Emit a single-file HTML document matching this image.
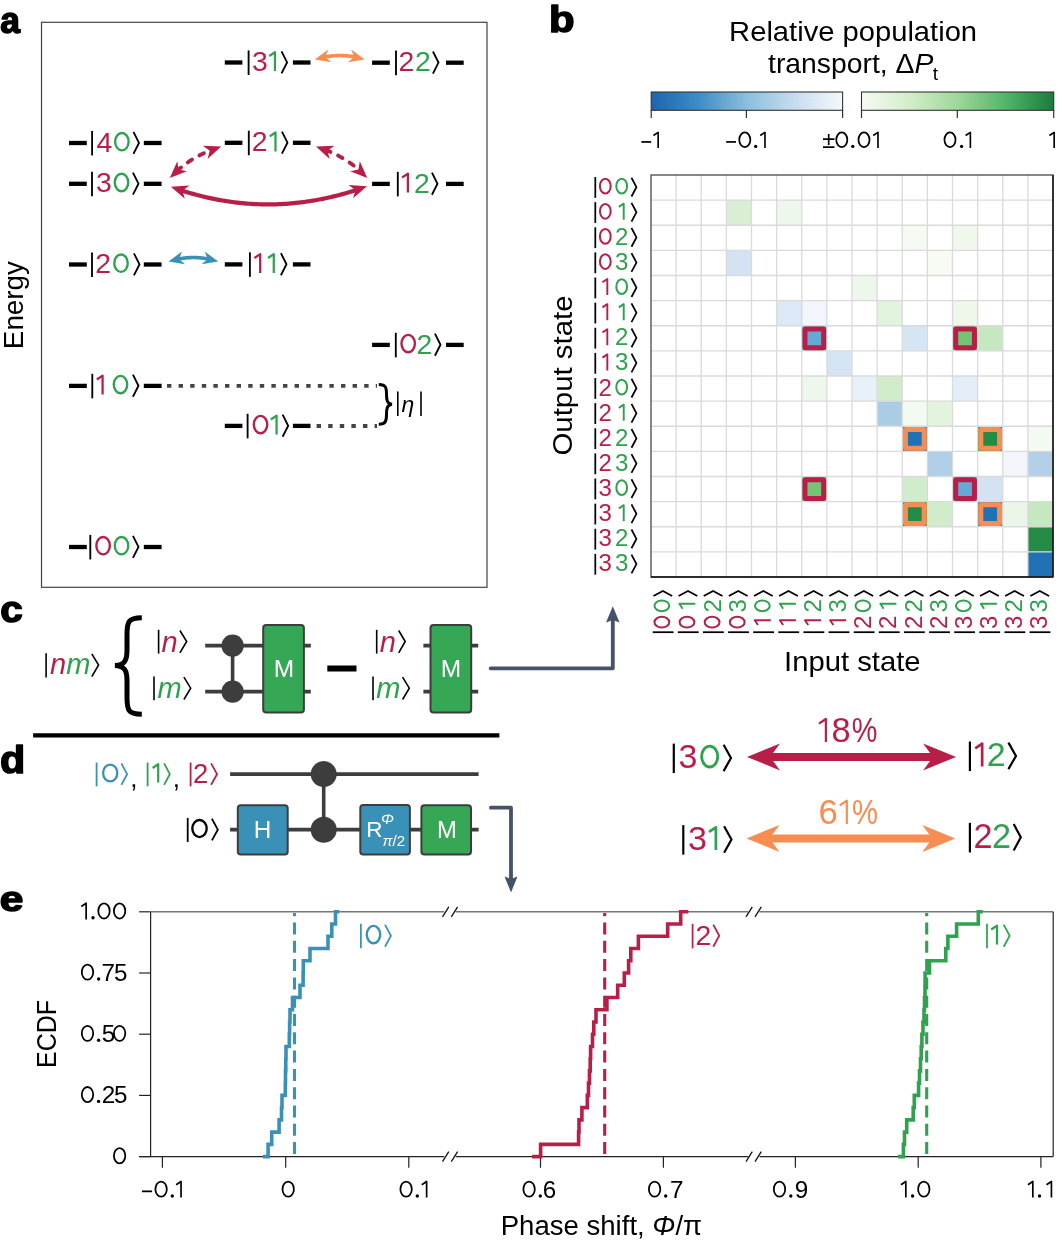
<!DOCTYPE html>
<html><head><meta charset="utf-8"><style>
html,body{margin:0;padding:0;background:#fff;}
svg{display:block;will-change:transform;}
text{font-family:"Liberation Sans", sans-serif;}
</style></head><body>
<svg width="1058" height="1243" viewBox="0 0 1058 1243" font-family='"Liberation Sans", sans-serif'>
<rect width="1058" height="1243" fill="#fff"/>
<rect x="41.5" y="22.3" width="445.5" height="565" fill="none" stroke="#444" stroke-width="1.2"/>
<text x="0.31" y="32.50" font-size="36.14" font-weight="bold" stroke="#000" stroke-width="1.5" stroke-linejoin="round" textLength="19.71" lengthAdjust="spacingAndGlyphs">a</text>
<text transform="translate(23.20,346.90) rotate(-90)" x="-2.28" y="0" font-size="27.5" fill="#000" textLength="88.14" lengthAdjust="spacingAndGlyphs">Energy</text>
<line x1="224.8" y1="62.5" x2="242.4" y2="62.5" stroke="#000" stroke-width="4.3"/>
<line x1="292.9" y1="62.5" x2="310.5" y2="62.5" stroke="#000" stroke-width="4.3"/>
<line x1="248.60" y1="50.41" x2="248.60" y2="74.96" stroke="#000" stroke-width="1.85"/>
<text x="260.00" y="71.10" font-size="28.37" fill="#b91e48" text-anchor="middle">3</text>
<path d="M269.23,56.05 L274.98,52.19 V71.10" fill="none" stroke="#2ea24e" stroke-width="2.26" stroke-linejoin="round"/>
<polyline points="281.53,51.30 287.09,62.39 281.53,73.38" fill="none" stroke="#000" stroke-width="1.85"/>
<line x1="372.1" y1="62.7" x2="389.8" y2="62.7" stroke="#000" stroke-width="4.3"/>
<line x1="446.0" y1="62.7" x2="463.7" y2="62.7" stroke="#000" stroke-width="4.3"/>
<line x1="396.00" y1="50.61" x2="396.00" y2="75.16" stroke="#000" stroke-width="1.85"/>
<text x="406.50" y="71.30" font-size="28.37" fill="#b91e48" text-anchor="middle">2</text>
<text x="423.00" y="71.30" font-size="28.37" fill="#2ea24e" text-anchor="middle">2</text>
<polyline points="432.93,51.50 438.49,62.59 432.93,73.58" fill="none" stroke="#000" stroke-width="1.85"/>
<line x1="69.0" y1="143.0" x2="86.8" y2="143.0" stroke="#000" stroke-width="4.3"/>
<line x1="143.8" y1="143.0" x2="161.6" y2="143.0" stroke="#000" stroke-width="4.3"/>
<line x1="92.10" y1="130.91" x2="92.10" y2="155.46" stroke="#000" stroke-width="1.85"/>
<text x="104.30" y="151.60" font-size="28.37" fill="#b91e48" text-anchor="middle">4</text>
<ellipse cx="121.90" cy="141.70" rx="6.73" ry="8.71" fill="none" stroke="#2ea24e" stroke-width="2.38"/>
<polyline points="133.43,131.80 138.99,142.89 133.43,153.88" fill="none" stroke="#000" stroke-width="1.85"/>
<line x1="224.8" y1="142.8" x2="242.4" y2="142.8" stroke="#000" stroke-width="4.3"/>
<line x1="292.9" y1="142.8" x2="310.5" y2="142.8" stroke="#000" stroke-width="4.3"/>
<line x1="248.80" y1="130.71" x2="248.80" y2="155.26" stroke="#000" stroke-width="1.85"/>
<text x="259.60" y="151.40" font-size="28.37" fill="#b91e48" text-anchor="middle">2</text>
<path d="M269.73,136.35 L275.48,132.49 V151.40" fill="none" stroke="#2ea24e" stroke-width="2.26" stroke-linejoin="round"/>
<polyline points="281.93,131.60 287.49,142.69 281.93,153.68" fill="none" stroke="#000" stroke-width="1.85"/>
<line x1="69.0" y1="183.8" x2="86.8" y2="183.8" stroke="#000" stroke-width="4.3"/>
<line x1="143.8" y1="183.8" x2="161.6" y2="183.8" stroke="#000" stroke-width="4.3"/>
<line x1="92.00" y1="171.71" x2="92.00" y2="196.26" stroke="#000" stroke-width="1.85"/>
<text x="104.00" y="192.40" font-size="28.37" fill="#b91e48" text-anchor="middle">3</text>
<ellipse cx="121.50" cy="182.50" rx="6.73" ry="8.71" fill="none" stroke="#2ea24e" stroke-width="2.38"/>
<polyline points="132.93,172.60 138.49,183.69 132.93,194.68" fill="none" stroke="#000" stroke-width="1.85"/>
<line x1="372.1" y1="183.9" x2="389.8" y2="183.9" stroke="#000" stroke-width="4.3"/>
<line x1="446.0" y1="183.9" x2="463.7" y2="183.9" stroke="#000" stroke-width="4.3"/>
<line x1="397.80" y1="171.81" x2="397.80" y2="196.36" stroke="#000" stroke-width="1.85"/>
<path d="M402.13,177.45 L407.88,173.59 V192.50" fill="none" stroke="#b91e48" stroke-width="2.26" stroke-linejoin="round"/>
<text x="422.00" y="192.50" font-size="28.37" fill="#2ea24e" text-anchor="middle">2</text>
<polyline points="431.93,172.70 437.49,183.79 431.93,194.78" fill="none" stroke="#000" stroke-width="1.85"/>
<line x1="69.0" y1="264.5" x2="86.8" y2="264.5" stroke="#000" stroke-width="4.3"/>
<line x1="143.8" y1="264.5" x2="161.6" y2="264.5" stroke="#000" stroke-width="4.3"/>
<line x1="92.00" y1="252.41" x2="92.00" y2="276.96" stroke="#000" stroke-width="1.85"/>
<text x="103.20" y="273.10" font-size="28.37" fill="#b91e48" text-anchor="middle">2</text>
<ellipse cx="121.00" cy="263.20" rx="6.73" ry="8.71" fill="none" stroke="#2ea24e" stroke-width="2.38"/>
<polyline points="133.93,253.30 139.49,264.39 133.93,275.38" fill="none" stroke="#000" stroke-width="1.85"/>
<line x1="224.8" y1="264.4" x2="242.4" y2="264.4" stroke="#000" stroke-width="4.3"/>
<line x1="292.9" y1="264.4" x2="310.5" y2="264.4" stroke="#000" stroke-width="4.3"/>
<line x1="249.90" y1="252.31" x2="249.90" y2="276.86" stroke="#000" stroke-width="1.85"/>
<path d="M254.43,257.95 L260.18,254.09 V273.00" fill="none" stroke="#b91e48" stroke-width="2.26" stroke-linejoin="round"/>
<path d="M268.03,257.95 L273.78,254.09 V273.00" fill="none" stroke="#2ea24e" stroke-width="2.26" stroke-linejoin="round"/>
<polyline points="280.93,253.20 286.49,264.29 280.93,275.28" fill="none" stroke="#000" stroke-width="1.85"/>
<line x1="372.1" y1="344.9" x2="389.8" y2="344.9" stroke="#000" stroke-width="4.3"/>
<line x1="446.0" y1="344.9" x2="463.7" y2="344.9" stroke="#000" stroke-width="4.3"/>
<line x1="395.80" y1="332.81" x2="395.80" y2="357.36" stroke="#000" stroke-width="1.85"/>
<ellipse cx="408.20" cy="343.60" rx="6.73" ry="8.71" fill="none" stroke="#b91e48" stroke-width="2.38"/>
<text x="424.50" y="353.50" font-size="28.37" fill="#2ea24e" text-anchor="middle">2</text>
<polyline points="434.93,333.70 440.49,344.79 434.93,355.78" fill="none" stroke="#000" stroke-width="1.85"/>
<line x1="69.0" y1="385.9" x2="86.8" y2="385.9" stroke="#000" stroke-width="4.3"/>
<line x1="143.8" y1="385.9" x2="161.6" y2="385.9" stroke="#000" stroke-width="4.3"/>
<line x1="92.30" y1="373.81" x2="92.30" y2="398.36" stroke="#000" stroke-width="1.85"/>
<path d="M96.83,379.45 L102.58,375.59 V394.50" fill="none" stroke="#b91e48" stroke-width="2.26" stroke-linejoin="round"/>
<ellipse cx="120.50" cy="384.60" rx="6.73" ry="8.71" fill="none" stroke="#2ea24e" stroke-width="2.38"/>
<polyline points="132.93,374.70 138.49,385.79 132.93,396.78" fill="none" stroke="#000" stroke-width="1.85"/>
<line x1="224.8" y1="425.9" x2="242.4" y2="425.9" stroke="#000" stroke-width="4.3"/>
<line x1="292.9" y1="425.9" x2="310.5" y2="425.9" stroke="#000" stroke-width="4.3"/>
<line x1="247.60" y1="413.81" x2="247.60" y2="438.36" stroke="#000" stroke-width="1.85"/>
<ellipse cx="260.50" cy="424.60" rx="6.73" ry="8.71" fill="none" stroke="#b91e48" stroke-width="2.38"/>
<path d="M270.83,419.45 L276.58,415.59 V434.50" fill="none" stroke="#2ea24e" stroke-width="2.26" stroke-linejoin="round"/>
<polyline points="282.62,414.70 288.19,425.79 282.62,436.78" fill="none" stroke="#000" stroke-width="1.85"/>
<line x1="69.0" y1="547.0" x2="86.8" y2="547.0" stroke="#000" stroke-width="4.3"/>
<line x1="143.8" y1="547.0" x2="161.6" y2="547.0" stroke="#000" stroke-width="4.3"/>
<line x1="90.30" y1="534.91" x2="90.30" y2="559.46" stroke="#000" stroke-width="1.85"/>
<ellipse cx="103.10" cy="545.70" rx="6.73" ry="8.71" fill="none" stroke="#b91e48" stroke-width="2.38"/>
<ellipse cx="121.50" cy="545.70" rx="6.73" ry="8.71" fill="none" stroke="#2ea24e" stroke-width="2.38"/>
<polyline points="132.93,535.80 138.49,546.89 132.93,557.88" fill="none" stroke="#000" stroke-width="1.85"/>
<line x1="167" y1="385.9" x2="377" y2="385.9" stroke="#444" stroke-width="3.9" stroke-dasharray="4.4 7.2"/>
<line x1="316.6" y1="426" x2="377" y2="426" stroke="#444" stroke-width="3.9" stroke-dasharray="4.4 7.2"/>
<path d="M378.8,384.5 C386,384.5 386.5,388 386.5,394 C386.5,400 387,403.8 392,404.3 C387,404.8 386.5,408.6 386.5,414.6 C386.5,420.6 386,424.2 378.8,424.2" fill="none" stroke="#000" stroke-width="3"/>
<line x1="397.8" y1="391.5" x2="397.8" y2="416" stroke="#000" stroke-width="1.6"/>
<text x="401.50" y="411.50" font-size="23" fill="#000" font-style="italic" >η</text>
<line x1="421" y1="391.5" x2="421" y2="416" stroke="#000" stroke-width="1.6"/>
<path d="M180.71,190.17 L183.16,190.96 L185.61,191.72 L188.07,192.46 L190.52,193.18 L192.97,193.88 L195.42,194.56 L197.88,195.21 L200.33,195.84 L202.78,196.45 L205.23,197.03 L207.68,197.60 L210.14,198.14 L212.59,198.65 L215.04,199.15 L217.49,199.62 L219.94,200.07 L222.40,200.50 L224.85,200.91 L227.30,201.29 L229.75,201.66 L232.20,202.00 L234.65,202.31 L237.11,202.61 L239.56,202.88 L242.01,203.13 L244.46,203.36 L246.91,203.56 L249.36,203.74 L251.82,203.90 L254.27,204.04 L256.72,204.16 L259.17,204.25 L261.62,204.32 L264.07,204.37 L266.52,204.40 L268.98,204.40 L271.43,204.38 L273.88,204.34 L276.33,204.28 L278.78,204.19 L281.23,204.08 L283.68,203.95 L286.13,203.80 L288.58,203.62 L291.03,203.43 L293.49,203.21 L295.94,202.96 L298.39,202.70 L300.84,202.41 L303.29,202.10 L305.74,201.77 L308.19,201.42 L310.64,201.04 L313.09,200.64 L315.54,200.22 L317.99,199.78 L320.44,199.31 L322.89,198.82 L325.35,198.31 L327.80,197.78 L330.25,197.22 L332.70,196.64 L335.15,196.04 L337.60,195.42 L340.05,194.77 L342.50,194.11 L344.95,193.42 L347.40,192.70 L349.85,191.97 L352.30,191.21 L354.75,190.43 L357.20,189.63" fill="none" stroke="#b91e48" stroke-width="4.2"/>
<path d="M170.90,186.80 L184.80,198.83 L182.51,190.68 L189.24,185.55 Z" fill="#b91e48"/>
<path d="M367.00,186.20 L348.65,185.06 L355.41,190.15 L353.17,198.31 Z" fill="#b91e48"/>
<path d="M177.21,170.69 L177.76,170.19 L178.32,169.70 L178.88,169.22 L179.45,168.74 L180.02,168.26 L180.59,167.79 L181.16,167.32 L181.74,166.85 L182.32,166.39 L182.91,165.93 L183.50,165.48 L184.09,165.03 L184.69,164.59 L185.29,164.14 L185.89,163.71 L186.50,163.27 L187.11,162.84 L187.72,162.42 L188.34,161.99 L188.96,161.58 L189.58,161.16 L190.21,160.75 L190.84,160.35 L191.47,159.94 L192.11,159.54 L192.75,159.15 L193.39,158.76 L194.04,158.37 L194.69,157.99 L195.35,157.61 L196.01,157.24 L196.67,156.87 L197.33,156.50 L198.00,156.14 L198.67,155.78 L199.35,155.42 L200.03,155.07 L200.71,154.72 L201.39,154.38 L202.08,154.04 L202.77,153.71 L203.47,153.37 L204.17,153.05 L204.87,152.72 L205.58,152.40 L206.29,152.09 L207.00,151.78 L207.72,151.47 L208.44,151.16 L209.16,150.86 L209.89,150.57 L210.62,150.28 L211.35,149.99" fill="none" stroke="#b91e48" stroke-width="3.9" stroke-dasharray="5 8.5" stroke-linecap="round"/>
<path d="M169.80,178.00 L186.93,171.34 L178.66,169.55 L177.27,161.20 Z" fill="#b91e48"/>
<path d="M221.20,146.60 L202.83,145.79 L209.69,150.76 L207.59,158.96 Z" fill="#b91e48"/>
<path d="M325.79,149.99 L326.52,150.28 L327.25,150.57 L327.97,150.86 L328.69,151.16 L329.41,151.47 L330.12,151.78 L330.83,152.09 L331.54,152.40 L332.24,152.72 L332.94,153.05 L333.64,153.37 L334.33,153.71 L335.02,154.04 L335.71,154.38 L336.39,154.72 L337.07,155.07 L337.75,155.42 L338.42,155.78 L339.09,156.14 L339.75,156.50 L340.42,156.87 L341.08,157.24 L341.73,157.61 L342.39,157.99 L343.04,158.37 L343.68,158.76 L344.32,159.15 L344.96,159.54 L345.60,159.94 L346.23,160.35 L346.86,160.75 L347.49,161.16 L348.11,161.58 L348.73,161.99 L349.35,162.42 L349.96,162.84 L350.57,163.27 L351.18,163.71 L351.78,164.14 L352.38,164.59 L352.97,165.03 L353.57,165.48 L354.16,165.93 L354.74,166.39 L355.33,166.85 L355.91,167.32 L356.48,167.79 L357.05,168.26 L357.62,168.74 L358.19,169.22 L358.75,169.70 L359.31,170.19 L359.87,170.69" fill="none" stroke="#b91e48" stroke-width="3.9" stroke-dasharray="5 8.5" stroke-linecap="round"/>
<path d="M316.00,146.60 L329.59,158.98 L327.51,150.78 L334.37,145.82 Z" fill="#b91e48"/>
<path d="M367.30,178.00 L359.80,161.21 L358.43,169.57 L350.16,171.36 Z" fill="#b91e48"/>
<path d="M323.55,57.26 L324.17,57.13 L324.80,57.01 L325.42,56.89 L326.04,56.78 L326.67,56.67 L327.29,56.56 L327.92,56.46 L328.54,56.37 L329.17,56.28 L329.79,56.20 L330.42,56.12 L331.04,56.05 L331.66,55.98 L332.29,55.91 L332.91,55.86 L333.54,55.80 L334.16,55.76 L334.78,55.71 L335.41,55.67 L336.03,55.64 L336.66,55.61 L337.28,55.59 L337.90,55.57 L338.53,55.56 L339.15,55.55 L339.78,55.55 L340.40,55.55 L341.02,55.56 L341.65,55.57 L342.27,55.59 L342.89,55.61 L343.52,55.64 L344.14,55.67 L344.76,55.71 L345.39,55.76 L346.01,55.80 L346.63,55.86 L347.26,55.91 L347.88,55.98 L348.50,56.05 L349.13,56.12 L349.75,56.20 L350.37,56.28 L351.00,56.37 L351.62,56.46 L352.24,56.56 L352.87,56.67 L353.49,56.78 L354.11,56.89 L354.74,57.01 L355.36,57.13 L355.98,57.26" fill="none" stroke="#f78d50" stroke-width="3.6"/>
<path d="M314.80,59.60 L331.42,62.35 L325.34,57.04 L328.30,49.53 Z" fill="#f78d50"/>
<path d="M364.70,59.60 L351.20,49.52 L354.16,57.03 L348.08,62.34 Z" fill="#f78d50"/>
<path d="M177.21,259.26 L177.83,259.13 L178.46,259.01 L179.08,258.89 L179.70,258.78 L180.32,258.67 L180.94,258.56 L181.57,258.46 L182.19,258.37 L182.81,258.28 L183.43,258.20 L184.05,258.12 L184.67,258.05 L185.30,257.98 L185.92,257.91 L186.54,257.86 L187.16,257.80 L187.78,257.76 L188.40,257.71 L189.03,257.67 L189.65,257.64 L190.27,257.61 L190.89,257.59 L191.51,257.57 L192.13,257.56 L192.75,257.55 L193.38,257.55 L194.00,257.55 L194.62,257.56 L195.24,257.57 L195.86,257.59 L196.48,257.61 L197.10,257.64 L197.72,257.67 L198.34,257.71 L198.96,257.76 L199.59,257.80 L200.21,257.86 L200.83,257.91 L201.45,257.98 L202.07,258.05 L202.69,258.12 L203.31,258.20 L203.93,258.28 L204.55,258.37 L205.17,258.46 L205.79,258.56 L206.41,258.67 L207.03,258.78 L207.66,258.89 L208.28,259.01 L208.90,259.13 L209.52,259.26" fill="none" stroke="#3a91b8" stroke-width="3.6"/>
<path d="M168.50,261.60 L185.12,264.34 L179.04,259.03 L181.99,251.51 Z" fill="#3a91b8"/>
<path d="M218.20,261.60 L204.71,251.50 L207.66,259.02 L201.58,264.32 Z" fill="#3a91b8"/>
<text x="549.09" y="31.79" font-size="36.97" font-weight="bold" stroke="#000" stroke-width="1.5" stroke-linejoin="round" textLength="25.58" lengthAdjust="spacingAndGlyphs">b</text>
<text x="729.11" y="40.60" font-size="27.5" fill="#000" textLength="247.98" lengthAdjust="spacingAndGlyphs">Relative population</text>
<text x="768.07" y="72.50" font-size="27.5" fill="#000" textLength="165.22" lengthAdjust="spacingAndGlyphs">transport, Δ<tspan font-style="italic">P</tspan></text>
<text x="932.80" y="79.50" font-size="19" fill="#000" >t</text>
<defs><linearGradient id="gb" x1="0" x2="1" y1="0" y2="0"><stop offset="0" stop-color="#1d64ad"/><stop offset="0.25" stop-color="#3f8dc5"/><stop offset="0.5" stop-color="#8bbfde"/><stop offset="0.75" stop-color="#c8dcef"/><stop offset="1" stop-color="#f4f8fd"/></linearGradient><linearGradient id="gg" x1="0" x2="1" y1="0" y2="0"><stop offset="0" stop-color="#f5fbf2"/><stop offset="0.25" stop-color="#d2eecb"/><stop offset="0.5" stop-color="#9fd79a"/><stop offset="0.75" stop-color="#52b56a"/><stop offset="1" stop-color="#1b7b3d"/></linearGradient></defs>
<rect x="651.2" y="92" width="191.4" height="18.3" fill="url(#gb)" stroke="#333" stroke-width="1.1"/>
<rect x="861.5" y="92" width="192.2" height="18.3" fill="url(#gg)" stroke="#333" stroke-width="1.1"/>
<line x1="651.2" y1="110" x2="651.2" y2="118" stroke="#333" stroke-width="1.2"/>
<line x1="746.4" y1="110" x2="746.4" y2="118" stroke="#333" stroke-width="1.2"/>
<line x1="842.6" y1="110" x2="842.6" y2="118" stroke="#333" stroke-width="1.2"/>
<line x1="861.5" y1="110" x2="861.5" y2="118" stroke="#333" stroke-width="1.2"/>
<line x1="957.3" y1="110" x2="957.3" y2="118" stroke="#333" stroke-width="1.2"/>
<line x1="1053.7" y1="110" x2="1053.7" y2="118" stroke="#333" stroke-width="1.2"/>
<line x1="641.38" y1="141.93" x2="651.22" y2="141.93" stroke="#000" stroke-width="1.72"/>
<path d="M653.41,135.54 L658.17,132.34 V148.00" fill="none" stroke="#000" stroke-width="1.64" stroke-linejoin="round"/>
<line x1="726.18" y1="141.93" x2="736.02" y2="141.93" stroke="#000" stroke-width="1.72"/>
<ellipse cx="744.80" cy="139.80" rx="5.54" ry="7.34" fill="none" stroke="#000" stroke-width="1.72"/>
<circle cx="755.70" cy="146.44" r="1.64" fill="#000"/>
<path d="M760.21,135.54 L764.97,132.34 V148.00" fill="none" stroke="#000" stroke-width="1.64" stroke-linejoin="round"/>
<text x="828.70" y="148.00" font-size="23.50" fill="#000" text-anchor="middle">±</text>
<ellipse cx="841.80" cy="139.80" rx="5.54" ry="7.34" fill="none" stroke="#000" stroke-width="1.72"/>
<circle cx="852.80" cy="146.44" r="1.64" fill="#000"/>
<ellipse cx="864.00" cy="139.80" rx="5.54" ry="7.34" fill="none" stroke="#000" stroke-width="1.72"/>
<path d="M873.21,135.54 L877.97,132.34 V148.00" fill="none" stroke="#000" stroke-width="1.64" stroke-linejoin="round"/>
<ellipse cx="950.00" cy="139.80" rx="5.54" ry="7.34" fill="none" stroke="#000" stroke-width="1.72"/>
<circle cx="961.60" cy="146.44" r="1.64" fill="#000"/>
<path d="M965.61,135.54 L970.37,132.34 V148.00" fill="none" stroke="#000" stroke-width="1.64" stroke-linejoin="round"/>
<path d="M1049.41,135.54 L1054.17,132.34 V148.00" fill="none" stroke="#000" stroke-width="1.64" stroke-linejoin="round"/>
<rect x="726.38" y="200.12" width="25.12" height="25.12" fill="#d9efd3"/>
<rect x="776.62" y="200.12" width="25.12" height="25.12" fill="#eef7ec"/>
<rect x="902.25" y="225.25" width="25.12" height="25.12" fill="#f5faf3"/>
<rect x="952.50" y="225.25" width="25.12" height="25.12" fill="#f0f8ee"/>
<rect x="726.38" y="250.38" width="25.12" height="25.12" fill="#d3e3f3"/>
<rect x="927.38" y="250.38" width="25.12" height="25.12" fill="#f6fbf4"/>
<rect x="852.00" y="275.50" width="25.12" height="25.12" fill="#eef7ec"/>
<rect x="776.62" y="300.62" width="25.12" height="25.12" fill="#dce8f5"/>
<rect x="801.75" y="300.62" width="25.12" height="25.12" fill="#f2f6fc"/>
<rect x="877.12" y="300.62" width="25.12" height="25.12" fill="#e2f3de"/>
<rect x="952.50" y="300.62" width="25.12" height="25.12" fill="#eef7ea"/>
<rect x="801.75" y="325.75" width="25.12" height="25.12" fill="#65aad6"/>
<rect x="902.25" y="325.75" width="25.12" height="25.12" fill="#d6e5f4"/>
<rect x="952.50" y="325.75" width="25.12" height="25.12" fill="#74c476"/>
<rect x="977.62" y="325.75" width="25.12" height="25.12" fill="#c5e8c0"/>
<rect x="826.88" y="350.88" width="25.12" height="25.12" fill="#d4e4f3"/>
<rect x="801.75" y="376.00" width="25.12" height="25.12" fill="#eef7ec"/>
<rect x="852.00" y="376.00" width="25.12" height="25.12" fill="#e8f0fa"/>
<rect x="877.12" y="376.00" width="25.12" height="25.12" fill="#d0ecca"/>
<rect x="952.50" y="376.00" width="25.12" height="25.12" fill="#e4eef8"/>
<rect x="877.12" y="401.12" width="25.12" height="25.12" fill="#abcce5"/>
<rect x="902.25" y="401.12" width="25.12" height="25.12" fill="#f3faf1"/>
<rect x="927.38" y="401.12" width="25.12" height="25.12" fill="#e2f3de"/>
<rect x="902.25" y="426.25" width="25.12" height="25.12" fill="#2171b5"/>
<rect x="977.62" y="426.25" width="25.12" height="25.12" fill="#238b45"/>
<rect x="1027.88" y="426.25" width="25.12" height="25.12" fill="#f3faf1"/>
<rect x="927.38" y="451.38" width="25.12" height="25.12" fill="#b0cfe6"/>
<rect x="1002.75" y="451.38" width="25.12" height="25.12" fill="#f2f6fc"/>
<rect x="1027.88" y="451.38" width="25.12" height="25.12" fill="#b3d0e8"/>
<rect x="801.75" y="476.50" width="25.12" height="25.12" fill="#74c476"/>
<rect x="902.25" y="476.50" width="25.12" height="25.12" fill="#d0ecca"/>
<rect x="952.50" y="476.50" width="25.12" height="25.12" fill="#65aad6"/>
<rect x="977.62" y="476.50" width="25.12" height="25.12" fill="#d4e2f2"/>
<rect x="902.25" y="501.62" width="25.12" height="25.12" fill="#238b45"/>
<rect x="927.38" y="501.62" width="25.12" height="25.12" fill="#d0ecca"/>
<rect x="977.62" y="501.62" width="25.12" height="25.12" fill="#2171b5"/>
<rect x="1002.75" y="501.62" width="25.12" height="25.12" fill="#ebf6e8"/>
<rect x="1027.88" y="501.62" width="25.12" height="25.12" fill="#c5e8c0"/>
<rect x="1027.88" y="526.75" width="25.12" height="25.12" fill="#238b45"/>
<rect x="1027.88" y="551.88" width="25.12" height="25.12" fill="#2171b5"/>
<line x1="676.12" y1="175.0" x2="676.12" y2="577.0" stroke="#dadada" stroke-width="1.3"/>
<line x1="651.0" y1="200.12" x2="1053.0" y2="200.12" stroke="#dadada" stroke-width="1.3"/>
<line x1="701.25" y1="175.0" x2="701.25" y2="577.0" stroke="#dadada" stroke-width="1.3"/>
<line x1="651.0" y1="225.25" x2="1053.0" y2="225.25" stroke="#dadada" stroke-width="1.3"/>
<line x1="726.38" y1="175.0" x2="726.38" y2="577.0" stroke="#dadada" stroke-width="1.3"/>
<line x1="651.0" y1="250.38" x2="1053.0" y2="250.38" stroke="#dadada" stroke-width="1.3"/>
<line x1="751.50" y1="175.0" x2="751.50" y2="577.0" stroke="#dadada" stroke-width="1.3"/>
<line x1="651.0" y1="275.50" x2="1053.0" y2="275.50" stroke="#dadada" stroke-width="1.3"/>
<line x1="776.62" y1="175.0" x2="776.62" y2="577.0" stroke="#dadada" stroke-width="1.3"/>
<line x1="651.0" y1="300.62" x2="1053.0" y2="300.62" stroke="#dadada" stroke-width="1.3"/>
<line x1="801.75" y1="175.0" x2="801.75" y2="577.0" stroke="#dadada" stroke-width="1.3"/>
<line x1="651.0" y1="325.75" x2="1053.0" y2="325.75" stroke="#dadada" stroke-width="1.3"/>
<line x1="826.88" y1="175.0" x2="826.88" y2="577.0" stroke="#dadada" stroke-width="1.3"/>
<line x1="651.0" y1="350.88" x2="1053.0" y2="350.88" stroke="#dadada" stroke-width="1.3"/>
<line x1="852.00" y1="175.0" x2="852.00" y2="577.0" stroke="#dadada" stroke-width="1.3"/>
<line x1="651.0" y1="376.00" x2="1053.0" y2="376.00" stroke="#dadada" stroke-width="1.3"/>
<line x1="877.12" y1="175.0" x2="877.12" y2="577.0" stroke="#dadada" stroke-width="1.3"/>
<line x1="651.0" y1="401.12" x2="1053.0" y2="401.12" stroke="#dadada" stroke-width="1.3"/>
<line x1="902.25" y1="175.0" x2="902.25" y2="577.0" stroke="#dadada" stroke-width="1.3"/>
<line x1="651.0" y1="426.25" x2="1053.0" y2="426.25" stroke="#dadada" stroke-width="1.3"/>
<line x1="927.38" y1="175.0" x2="927.38" y2="577.0" stroke="#dadada" stroke-width="1.3"/>
<line x1="651.0" y1="451.38" x2="1053.0" y2="451.38" stroke="#dadada" stroke-width="1.3"/>
<line x1="952.50" y1="175.0" x2="952.50" y2="577.0" stroke="#dadada" stroke-width="1.3"/>
<line x1="651.0" y1="476.50" x2="1053.0" y2="476.50" stroke="#dadada" stroke-width="1.3"/>
<line x1="977.62" y1="175.0" x2="977.62" y2="577.0" stroke="#dadada" stroke-width="1.3"/>
<line x1="651.0" y1="501.62" x2="1053.0" y2="501.62" stroke="#dadada" stroke-width="1.3"/>
<line x1="1002.75" y1="175.0" x2="1002.75" y2="577.0" stroke="#dadada" stroke-width="1.3"/>
<line x1="651.0" y1="526.75" x2="1053.0" y2="526.75" stroke="#dadada" stroke-width="1.3"/>
<line x1="1027.88" y1="175.0" x2="1027.88" y2="577.0" stroke="#dadada" stroke-width="1.3"/>
<line x1="651.0" y1="551.88" x2="1053.0" y2="551.88" stroke="#dadada" stroke-width="1.3"/>
<rect x="804.95" y="328.95" width="18.73" height="18.73" rx="0.8" fill="none" stroke="#b91e48" stroke-width="5.0"/>
<rect x="955.70" y="328.95" width="18.73" height="18.73" rx="0.8" fill="none" stroke="#b91e48" stroke-width="5.0"/>
<rect x="804.95" y="479.70" width="18.73" height="18.73" rx="0.8" fill="none" stroke="#b91e48" stroke-width="5.0"/>
<rect x="955.70" y="479.70" width="18.73" height="18.73" rx="0.8" fill="none" stroke="#b91e48" stroke-width="5.0"/>
<rect x="905.45" y="429.45" width="18.73" height="18.73" rx="0.8" fill="none" stroke="#f78d50" stroke-width="5.0"/>
<rect x="980.83" y="429.45" width="18.73" height="18.73" rx="0.8" fill="none" stroke="#f78d50" stroke-width="5.0"/>
<rect x="905.45" y="504.82" width="18.73" height="18.73" rx="0.8" fill="none" stroke="#f78d50" stroke-width="5.0"/>
<rect x="980.83" y="504.82" width="18.73" height="18.73" rx="0.8" fill="none" stroke="#f78d50" stroke-width="5.0"/>
<rect x="651.0" y="175.0" width="402.0" height="402.0" fill="none" stroke="#555" stroke-width="1.4"/>
<line x1="651.0" y1="577.0" x2="1053.0" y2="577.0" stroke="#111" stroke-width="1.4"/>
<line x1="1053.0" y1="175.0" x2="1053.0" y2="577.0" stroke="#111" stroke-width="1.4"/>
<line x1="595.30" y1="177.01" x2="595.30" y2="197.84" stroke="#000" stroke-width="1.75"/>
<ellipse cx="605.30" cy="186.16" rx="5.38" ry="7.39" fill="none" stroke="#b91e48" stroke-width="2.02"/>
<ellipse cx="621.70" cy="186.16" rx="5.38" ry="7.39" fill="none" stroke="#2ea24e" stroke-width="2.02"/>
<polyline points="631.48,177.76 636.45,187.17 631.48,196.49" fill="none" stroke="#000" stroke-width="1.75"/>
<g transform="translate(670.26,632.2) rotate(-90)">
<line x1="0.00" y1="-17.56" x2="0.00" y2="3.28" stroke="#000" stroke-width="1.75"/>
<ellipse cx="10.00" cy="-8.40" rx="5.38" ry="7.39" fill="none" stroke="#b91e48" stroke-width="2.02"/>
<ellipse cx="26.40" cy="-8.40" rx="5.38" ry="7.39" fill="none" stroke="#2ea24e" stroke-width="2.02"/>
<polyline points="36.17,-16.80 41.15,-7.39 36.17,1.93" fill="none" stroke="#000" stroke-width="1.75"/>
</g>
<line x1="595.30" y1="202.13" x2="595.30" y2="222.96" stroke="#000" stroke-width="1.75"/>
<ellipse cx="605.30" cy="211.29" rx="5.38" ry="7.39" fill="none" stroke="#b91e48" stroke-width="2.02"/>
<path d="M618.84,206.92 L623.72,203.64 V219.69" fill="none" stroke="#2ea24e" stroke-width="1.92" stroke-linejoin="round"/>
<polyline points="631.48,202.89 636.45,212.30 631.48,221.62" fill="none" stroke="#000" stroke-width="1.75"/>
<g transform="translate(695.39,632.2) rotate(-90)">
<line x1="0.00" y1="-17.56" x2="0.00" y2="3.28" stroke="#000" stroke-width="1.75"/>
<ellipse cx="10.00" cy="-8.40" rx="5.38" ry="7.39" fill="none" stroke="#b91e48" stroke-width="2.02"/>
<path d="M23.54,-12.77 L28.42,-16.04 V0.00" fill="none" stroke="#2ea24e" stroke-width="1.92" stroke-linejoin="round"/>
<polyline points="36.17,-16.80 41.15,-7.39 36.17,1.93" fill="none" stroke="#000" stroke-width="1.75"/>
</g>
<line x1="595.30" y1="227.26" x2="595.30" y2="248.09" stroke="#000" stroke-width="1.75"/>
<ellipse cx="605.30" cy="236.41" rx="5.38" ry="7.39" fill="none" stroke="#b91e48" stroke-width="2.02"/>
<text x="621.70" y="244.81" font-size="24.07" fill="#2ea24e" text-anchor="middle">2</text>
<polyline points="631.48,228.01 636.45,237.42 631.48,246.74" fill="none" stroke="#000" stroke-width="1.75"/>
<g transform="translate(720.51,632.2) rotate(-90)">
<line x1="0.00" y1="-17.56" x2="0.00" y2="3.28" stroke="#000" stroke-width="1.75"/>
<ellipse cx="10.00" cy="-8.40" rx="5.38" ry="7.39" fill="none" stroke="#b91e48" stroke-width="2.02"/>
<text x="26.40" y="0.00" font-size="24.07" fill="#2ea24e" text-anchor="middle">2</text>
<polyline points="36.17,-16.80 41.15,-7.39 36.17,1.93" fill="none" stroke="#000" stroke-width="1.75"/>
</g>
<line x1="595.30" y1="252.38" x2="595.30" y2="273.21" stroke="#000" stroke-width="1.75"/>
<ellipse cx="605.30" cy="261.54" rx="5.38" ry="7.39" fill="none" stroke="#b91e48" stroke-width="2.02"/>
<text x="621.70" y="269.94" font-size="24.07" fill="#2ea24e" text-anchor="middle">3</text>
<polyline points="631.48,253.14 636.45,262.55 631.48,271.87" fill="none" stroke="#000" stroke-width="1.75"/>
<g transform="translate(745.64,632.2) rotate(-90)">
<line x1="0.00" y1="-17.56" x2="0.00" y2="3.28" stroke="#000" stroke-width="1.75"/>
<ellipse cx="10.00" cy="-8.40" rx="5.38" ry="7.39" fill="none" stroke="#b91e48" stroke-width="2.02"/>
<text x="26.40" y="0.00" font-size="24.07" fill="#2ea24e" text-anchor="middle">3</text>
<polyline points="36.17,-16.80 41.15,-7.39 36.17,1.93" fill="none" stroke="#000" stroke-width="1.75"/>
</g>
<line x1="595.30" y1="277.51" x2="595.30" y2="298.34" stroke="#000" stroke-width="1.75"/>
<path d="M602.44,282.29 L607.32,279.02 V295.06" fill="none" stroke="#b91e48" stroke-width="1.92" stroke-linejoin="round"/>
<ellipse cx="621.70" cy="286.66" rx="5.38" ry="7.39" fill="none" stroke="#2ea24e" stroke-width="2.02"/>
<polyline points="631.48,278.26 636.45,287.67 631.48,296.99" fill="none" stroke="#000" stroke-width="1.75"/>
<g transform="translate(770.76,632.2) rotate(-90)">
<line x1="0.00" y1="-17.56" x2="0.00" y2="3.28" stroke="#000" stroke-width="1.75"/>
<path d="M7.14,-12.77 L12.02,-16.04 V0.00" fill="none" stroke="#b91e48" stroke-width="1.92" stroke-linejoin="round"/>
<ellipse cx="26.40" cy="-8.40" rx="5.38" ry="7.39" fill="none" stroke="#2ea24e" stroke-width="2.02"/>
<polyline points="36.17,-16.80 41.15,-7.39 36.17,1.93" fill="none" stroke="#000" stroke-width="1.75"/>
</g>
<line x1="595.30" y1="302.63" x2="595.30" y2="323.46" stroke="#000" stroke-width="1.75"/>
<path d="M602.44,307.42 L607.32,304.14 V320.19" fill="none" stroke="#b91e48" stroke-width="1.92" stroke-linejoin="round"/>
<path d="M618.84,307.42 L623.72,304.14 V320.19" fill="none" stroke="#2ea24e" stroke-width="1.92" stroke-linejoin="round"/>
<polyline points="631.48,303.39 636.45,312.80 631.48,322.12" fill="none" stroke="#000" stroke-width="1.75"/>
<g transform="translate(795.89,632.2) rotate(-90)">
<line x1="0.00" y1="-17.56" x2="0.00" y2="3.28" stroke="#000" stroke-width="1.75"/>
<path d="M7.14,-12.77 L12.02,-16.04 V0.00" fill="none" stroke="#b91e48" stroke-width="1.92" stroke-linejoin="round"/>
<path d="M23.54,-12.77 L28.42,-16.04 V0.00" fill="none" stroke="#2ea24e" stroke-width="1.92" stroke-linejoin="round"/>
<polyline points="36.17,-16.80 41.15,-7.39 36.17,1.93" fill="none" stroke="#000" stroke-width="1.75"/>
</g>
<line x1="595.30" y1="327.76" x2="595.30" y2="348.59" stroke="#000" stroke-width="1.75"/>
<path d="M602.44,332.54 L607.32,329.27 V345.31" fill="none" stroke="#b91e48" stroke-width="1.92" stroke-linejoin="round"/>
<text x="621.70" y="345.31" font-size="24.07" fill="#2ea24e" text-anchor="middle">2</text>
<polyline points="631.48,328.51 636.45,337.92 631.48,347.24" fill="none" stroke="#000" stroke-width="1.75"/>
<g transform="translate(821.01,632.2) rotate(-90)">
<line x1="0.00" y1="-17.56" x2="0.00" y2="3.28" stroke="#000" stroke-width="1.75"/>
<path d="M7.14,-12.77 L12.02,-16.04 V0.00" fill="none" stroke="#b91e48" stroke-width="1.92" stroke-linejoin="round"/>
<text x="26.40" y="0.00" font-size="24.07" fill="#2ea24e" text-anchor="middle">2</text>
<polyline points="36.17,-16.80 41.15,-7.39 36.17,1.93" fill="none" stroke="#000" stroke-width="1.75"/>
</g>
<line x1="595.30" y1="352.88" x2="595.30" y2="373.71" stroke="#000" stroke-width="1.75"/>
<path d="M602.44,357.67 L607.32,354.39 V370.44" fill="none" stroke="#b91e48" stroke-width="1.92" stroke-linejoin="round"/>
<text x="621.70" y="370.44" font-size="24.07" fill="#2ea24e" text-anchor="middle">3</text>
<polyline points="631.48,353.64 636.45,363.05 631.48,372.37" fill="none" stroke="#000" stroke-width="1.75"/>
<g transform="translate(846.14,632.2) rotate(-90)">
<line x1="0.00" y1="-17.56" x2="0.00" y2="3.28" stroke="#000" stroke-width="1.75"/>
<path d="M7.14,-12.77 L12.02,-16.04 V0.00" fill="none" stroke="#b91e48" stroke-width="1.92" stroke-linejoin="round"/>
<text x="26.40" y="0.00" font-size="24.07" fill="#2ea24e" text-anchor="middle">3</text>
<polyline points="36.17,-16.80 41.15,-7.39 36.17,1.93" fill="none" stroke="#000" stroke-width="1.75"/>
</g>
<line x1="595.30" y1="378.01" x2="595.30" y2="398.84" stroke="#000" stroke-width="1.75"/>
<text x="605.30" y="395.56" font-size="24.07" fill="#b91e48" text-anchor="middle">2</text>
<ellipse cx="621.70" cy="387.16" rx="5.38" ry="7.39" fill="none" stroke="#2ea24e" stroke-width="2.02"/>
<polyline points="631.48,378.76 636.45,388.17 631.48,397.49" fill="none" stroke="#000" stroke-width="1.75"/>
<g transform="translate(871.26,632.2) rotate(-90)">
<line x1="0.00" y1="-17.56" x2="0.00" y2="3.28" stroke="#000" stroke-width="1.75"/>
<text x="10.00" y="0.00" font-size="24.07" fill="#b91e48" text-anchor="middle">2</text>
<ellipse cx="26.40" cy="-8.40" rx="5.38" ry="7.39" fill="none" stroke="#2ea24e" stroke-width="2.02"/>
<polyline points="36.17,-16.80 41.15,-7.39 36.17,1.93" fill="none" stroke="#000" stroke-width="1.75"/>
</g>
<line x1="595.30" y1="403.13" x2="595.30" y2="423.96" stroke="#000" stroke-width="1.75"/>
<text x="605.30" y="420.69" font-size="24.07" fill="#b91e48" text-anchor="middle">2</text>
<path d="M618.84,407.92 L623.72,404.64 V420.69" fill="none" stroke="#2ea24e" stroke-width="1.92" stroke-linejoin="round"/>
<polyline points="631.48,403.89 636.45,413.30 631.48,422.62" fill="none" stroke="#000" stroke-width="1.75"/>
<g transform="translate(896.39,632.2) rotate(-90)">
<line x1="0.00" y1="-17.56" x2="0.00" y2="3.28" stroke="#000" stroke-width="1.75"/>
<text x="10.00" y="0.00" font-size="24.07" fill="#b91e48" text-anchor="middle">2</text>
<path d="M23.54,-12.77 L28.42,-16.04 V0.00" fill="none" stroke="#2ea24e" stroke-width="1.92" stroke-linejoin="round"/>
<polyline points="36.17,-16.80 41.15,-7.39 36.17,1.93" fill="none" stroke="#000" stroke-width="1.75"/>
</g>
<line x1="595.30" y1="428.26" x2="595.30" y2="449.09" stroke="#000" stroke-width="1.75"/>
<text x="605.30" y="445.81" font-size="24.07" fill="#b91e48" text-anchor="middle">2</text>
<text x="621.70" y="445.81" font-size="24.07" fill="#2ea24e" text-anchor="middle">2</text>
<polyline points="631.48,429.01 636.45,438.42 631.48,447.74" fill="none" stroke="#000" stroke-width="1.75"/>
<g transform="translate(921.51,632.2) rotate(-90)">
<line x1="0.00" y1="-17.56" x2="0.00" y2="3.28" stroke="#000" stroke-width="1.75"/>
<text x="10.00" y="0.00" font-size="24.07" fill="#b91e48" text-anchor="middle">2</text>
<text x="26.40" y="0.00" font-size="24.07" fill="#2ea24e" text-anchor="middle">2</text>
<polyline points="36.17,-16.80 41.15,-7.39 36.17,1.93" fill="none" stroke="#000" stroke-width="1.75"/>
</g>
<line x1="595.30" y1="453.38" x2="595.30" y2="474.21" stroke="#000" stroke-width="1.75"/>
<text x="605.30" y="470.94" font-size="24.07" fill="#b91e48" text-anchor="middle">2</text>
<text x="621.70" y="470.94" font-size="24.07" fill="#2ea24e" text-anchor="middle">3</text>
<polyline points="631.48,454.14 636.45,463.55 631.48,472.87" fill="none" stroke="#000" stroke-width="1.75"/>
<g transform="translate(946.64,632.2) rotate(-90)">
<line x1="0.00" y1="-17.56" x2="0.00" y2="3.28" stroke="#000" stroke-width="1.75"/>
<text x="10.00" y="0.00" font-size="24.07" fill="#b91e48" text-anchor="middle">2</text>
<text x="26.40" y="0.00" font-size="24.07" fill="#2ea24e" text-anchor="middle">3</text>
<polyline points="36.17,-16.80 41.15,-7.39 36.17,1.93" fill="none" stroke="#000" stroke-width="1.75"/>
</g>
<line x1="595.30" y1="478.51" x2="595.30" y2="499.34" stroke="#000" stroke-width="1.75"/>
<text x="605.30" y="496.06" font-size="24.07" fill="#b91e48" text-anchor="middle">3</text>
<ellipse cx="621.70" cy="487.66" rx="5.38" ry="7.39" fill="none" stroke="#2ea24e" stroke-width="2.02"/>
<polyline points="631.48,479.26 636.45,488.67 631.48,497.99" fill="none" stroke="#000" stroke-width="1.75"/>
<g transform="translate(971.76,632.2) rotate(-90)">
<line x1="0.00" y1="-17.56" x2="0.00" y2="3.28" stroke="#000" stroke-width="1.75"/>
<text x="10.00" y="0.00" font-size="24.07" fill="#b91e48" text-anchor="middle">3</text>
<ellipse cx="26.40" cy="-8.40" rx="5.38" ry="7.39" fill="none" stroke="#2ea24e" stroke-width="2.02"/>
<polyline points="36.17,-16.80 41.15,-7.39 36.17,1.93" fill="none" stroke="#000" stroke-width="1.75"/>
</g>
<line x1="595.30" y1="503.63" x2="595.30" y2="524.46" stroke="#000" stroke-width="1.75"/>
<text x="605.30" y="521.19" font-size="24.07" fill="#b91e48" text-anchor="middle">3</text>
<path d="M618.84,508.42 L623.72,505.14 V521.19" fill="none" stroke="#2ea24e" stroke-width="1.92" stroke-linejoin="round"/>
<polyline points="631.48,504.39 636.45,513.80 631.48,523.12" fill="none" stroke="#000" stroke-width="1.75"/>
<g transform="translate(996.89,632.2) rotate(-90)">
<line x1="0.00" y1="-17.56" x2="0.00" y2="3.28" stroke="#000" stroke-width="1.75"/>
<text x="10.00" y="0.00" font-size="24.07" fill="#b91e48" text-anchor="middle">3</text>
<path d="M23.54,-12.77 L28.42,-16.04 V0.00" fill="none" stroke="#2ea24e" stroke-width="1.92" stroke-linejoin="round"/>
<polyline points="36.17,-16.80 41.15,-7.39 36.17,1.93" fill="none" stroke="#000" stroke-width="1.75"/>
</g>
<line x1="595.30" y1="528.76" x2="595.30" y2="549.59" stroke="#000" stroke-width="1.75"/>
<text x="605.30" y="546.31" font-size="24.07" fill="#b91e48" text-anchor="middle">3</text>
<text x="621.70" y="546.31" font-size="24.07" fill="#2ea24e" text-anchor="middle">2</text>
<polyline points="631.48,529.51 636.45,538.92 631.48,548.24" fill="none" stroke="#000" stroke-width="1.75"/>
<g transform="translate(1022.01,632.2) rotate(-90)">
<line x1="0.00" y1="-17.56" x2="0.00" y2="3.28" stroke="#000" stroke-width="1.75"/>
<text x="10.00" y="0.00" font-size="24.07" fill="#b91e48" text-anchor="middle">3</text>
<text x="26.40" y="0.00" font-size="24.07" fill="#2ea24e" text-anchor="middle">2</text>
<polyline points="36.17,-16.80 41.15,-7.39 36.17,1.93" fill="none" stroke="#000" stroke-width="1.75"/>
</g>
<line x1="595.30" y1="553.88" x2="595.30" y2="574.71" stroke="#000" stroke-width="1.75"/>
<text x="605.30" y="571.44" font-size="24.07" fill="#b91e48" text-anchor="middle">3</text>
<text x="621.70" y="571.44" font-size="24.07" fill="#2ea24e" text-anchor="middle">3</text>
<polyline points="631.48,554.64 636.45,564.05 631.48,573.37" fill="none" stroke="#000" stroke-width="1.75"/>
<g transform="translate(1047.14,632.2) rotate(-90)">
<line x1="0.00" y1="-17.56" x2="0.00" y2="3.28" stroke="#000" stroke-width="1.75"/>
<text x="10.00" y="0.00" font-size="24.07" fill="#b91e48" text-anchor="middle">3</text>
<text x="26.40" y="0.00" font-size="24.07" fill="#2ea24e" text-anchor="middle">3</text>
<polyline points="36.17,-16.80 41.15,-7.39 36.17,1.93" fill="none" stroke="#000" stroke-width="1.75"/>
</g>
<text transform="translate(571.60,454.20) rotate(-90)" x="-1.39" y="0" font-size="27.5" fill="#000" textLength="160.10" lengthAdjust="spacingAndGlyphs">Output state</text>
<text x="784.00" y="671.20" font-size="27.2" fill="#000" textLength="136.60" lengthAdjust="spacingAndGlyphs">Input state</text>
<text x="0.37" y="621.89" font-size="36.69" font-weight="bold" stroke="#000" stroke-width="1.5" stroke-linejoin="round" textLength="22.46" lengthAdjust="spacingAndGlyphs">c</text>
<line x1="46.1" y1="653.2" x2="46.1" y2="677.4" stroke="#000" stroke-width="1.6"/>
<text x="50" y="673.6" font-size="29" font-style="italic"><tspan fill="#b91e48">n</tspan><tspan fill="#2ea24e">m</tspan></text>
<polyline points="91.8,653.8 98.6,665 91.8,676.6" fill="none" stroke="#000" stroke-width="1.6"/>
<path d="M141.8,617.8 C128,617.8 127,622 127,635 L127,650 C127,660 125,665 115,665.5 C125,666 127,671 127,681 L127,697 C127,710 128,714.3 141.8,714.3" fill="none" stroke="#000" stroke-width="5"/>
<line x1="158.6" y1="629.8" x2="158.6" y2="653.6" stroke="#000" stroke-width="1.6"/>
<text x="161.50" y="651.60" font-size="29" fill="#b91e48" font-style="italic" >n</text>
<polyline points="179.9,630.5 186.7,641.5 179.9,652.8" fill="none" stroke="#000" stroke-width="1.6"/>
<line x1="154" y1="676.5" x2="154" y2="700.3" stroke="#000" stroke-width="1.6"/>
<text x="157.50" y="697.60" font-size="29" fill="#2ea24e" font-style="italic" >m</text>
<polyline points="183.9,677.2 190.7,688.2 183.9,699.5" fill="none" stroke="#000" stroke-width="1.6"/>
<line x1="205.2" y1="645.7" x2="310.8" y2="645.7" stroke="#3d3d3d" stroke-width="3.8"/>
<line x1="205.2" y1="691.7" x2="310.8" y2="691.7" stroke="#3d3d3d" stroke-width="3.8"/>
<line x1="232.6" y1="645.7" x2="232.6" y2="691.7" stroke="#3d3d3d" stroke-width="3.6"/>
<circle cx="232.6" cy="645.7" r="11.1" fill="#3d3d3d"/>
<circle cx="232.6" cy="691.7" r="11.1" fill="#3d3d3d"/>
<rect x="263.2" y="624.9" width="40.7" height="87.6" rx="3" fill="#35a755" stroke="#3d3d3d" stroke-width="2"/>
<text x="284.00" y="677.10" font-size="24.5" fill="#fff" text-anchor="middle" >M</text>
<line x1="327.3" y1="668.5" x2="356.5" y2="668.5" stroke="#000" stroke-width="6"/>
<line x1="376.7" y1="629.8" x2="376.7" y2="653.6" stroke="#000" stroke-width="1.6"/>
<text x="379.80" y="651.60" font-size="29" fill="#b91e48" font-style="italic" >n</text>
<polyline points="398.7,630.5 405.2,641.5 398.7,652.8" fill="none" stroke="#000" stroke-width="1.6"/>
<line x1="373" y1="676.5" x2="373" y2="700.3" stroke="#000" stroke-width="1.6"/>
<text x="376.30" y="697.60" font-size="29" fill="#2ea24e" font-style="italic" >m</text>
<polyline points="402.6,677.2 409.3,688.2 402.6,699.5" fill="none" stroke="#000" stroke-width="1.6"/>
<line x1="423.4" y1="645.7" x2="478.2" y2="645.7" stroke="#3d3d3d" stroke-width="3.8"/>
<line x1="423.4" y1="691.7" x2="478.2" y2="691.7" stroke="#3d3d3d" stroke-width="3.8"/>
<rect x="430.5" y="624.9" width="40.7" height="87.6" rx="3" fill="#35a755" stroke="#3d3d3d" stroke-width="2"/>
<text x="450.90" y="677.10" font-size="24.5" fill="#fff" text-anchor="middle" >M</text>
<path d="M490.6,668.3 H612.8 V620" fill="none" stroke="#45526b" stroke-width="3.8" stroke-linecap="round" stroke-linejoin="round"/>
<path d="M612.8,606.3 L619.6,622.5 L612.8,620 L606,622.5 Z" fill="#45526b"/>
<line x1="33.1" y1="735.3" x2="499.4" y2="735.3" stroke="#000" stroke-width="4.2"/>
<text x="-0.04" y="773.18" font-size="37.86" font-weight="bold" stroke="#000" stroke-width="1.5" stroke-linejoin="round" textLength="25.21" lengthAdjust="spacingAndGlyphs">d</text>
<line x1="96.60" y1="762.54" x2="96.60" y2="786.34" stroke="#3a91b8" stroke-width="1.8"/>
<ellipse cx="110.20" cy="773.00" rx="7.10" ry="8.45" fill="none" stroke="#3a91b8" stroke-width="2.30"/>
<polyline points="121.40,763.40 127.12,774.15 121.40,784.81" fill="none" stroke="#3a91b8" stroke-width="1.8"/>
<text x="130.20" y="786.50" font-size="26" fill="#000" >,</text>
<line x1="147.60" y1="762.54" x2="147.60" y2="786.34" stroke="#2ea24e" stroke-width="1.8"/>
<path d="M152.64,768.01 L158.20,764.26 V782.60" fill="none" stroke="#2ea24e" stroke-width="2.19" stroke-linejoin="round"/>
<polyline points="164.10,763.40 169.82,774.15 164.10,784.81" fill="none" stroke="#2ea24e" stroke-width="1.8"/>
<text x="172.80" y="786.50" font-size="26" fill="#000" >,</text>
<line x1="190.60" y1="762.54" x2="190.60" y2="786.34" stroke="#b91e48" stroke-width="1.8"/>
<text x="200.60" y="782.60" font-size="27.51" fill="#b91e48" text-anchor="middle">2</text>
<polyline points="211.10,763.40 217.02,774.15 211.10,784.81" fill="none" stroke="#b91e48" stroke-width="1.8"/>
<line x1="187.70" y1="817.93" x2="187.70" y2="841.98" stroke="#000" stroke-width="1.8"/>
<ellipse cx="199.50" cy="828.50" rx="7.18" ry="8.54" fill="none" stroke="#000" stroke-width="2.33"/>
<polyline points="211.90,818.80 217.82,829.66 211.90,840.43" fill="none" stroke="#000" stroke-width="1.8"/>
<line x1="230.1" y1="774.1" x2="478.6" y2="774.1" stroke="#3d3d3d" stroke-width="3.8"/>
<line x1="230.1" y1="829.7" x2="478.6" y2="829.7" stroke="#3d3d3d" stroke-width="3.8"/>
<line x1="323.7" y1="774.1" x2="323.7" y2="829.7" stroke="#3d3d3d" stroke-width="3.6"/>
<circle cx="323.7" cy="774.1" r="13" fill="#3d3d3d"/>
<circle cx="323.7" cy="829.7" r="13" fill="#3d3d3d"/>
<rect x="237.8" y="805.3" width="49.9" height="49.3" rx="3" fill="#3a91b8" stroke="#3d3d3d" stroke-width="2"/>
<text x="262.50" y="838.00" font-size="24.3" fill="#fff" text-anchor="middle" >H</text>
<rect x="360.3" y="805.1" width="49.6" height="49.3" rx="3" fill="#3a91b8" stroke="#3d3d3d" stroke-width="2"/>
<text x="366.30" y="836.90" font-size="22.5" fill="#fff" >R</text>
<text x="381.00" y="823.80" font-size="15.5" fill="#fff" font-style="italic" >Φ</text>
<text x="382.50" y="845.60" font-size="15" fill="#fff" ><tspan font-style="italic">π</tspan>/2</text>
<rect x="421.4" y="805.3" width="49.6" height="49.3" rx="3" fill="#35a755" stroke="#3d3d3d" stroke-width="2"/>
<text x="446.90" y="837.70" font-size="23.8" fill="#fff" text-anchor="middle" >M</text>
<path d="M490.9,807.7 H511 V880" fill="none" stroke="#45526b" stroke-width="3.8" stroke-linecap="round" stroke-linejoin="round"/>
<path d="M511,892.5 L517.5,876.5 L511,879 L504.5,876.5 Z" fill="#45526b"/>
<line x1="766.80" y1="756.9" x2="936.30" y2="756.9" stroke="#b91e48" stroke-width="8.0"/>
<path d="M747.00,756.90 L780.00,770.40 L770.10,756.90 L780.00,743.40 Z" fill="#b91e48"/>
<path d="M956.10,756.90 L923.10,743.40 L933.00,756.90 L923.10,770.40 Z" fill="#b91e48"/>
<line x1="766.30" y1="838.4" x2="935.50" y2="838.4" stroke="#f78d50" stroke-width="8.0"/>
<path d="M746.50,838.40 L779.50,851.90 L769.60,838.40 L779.50,824.90 Z" fill="#f78d50"/>
<path d="M955.30,838.40 L922.30,824.90 L932.20,838.40 L922.30,851.90 Z" fill="#f78d50"/>
<path d="M818.92,723.66 L825.88,718.98 V741.90" fill="none" stroke="#b91e48" stroke-width="2.18" stroke-linejoin="round"/>
<text x="841.00" y="741.90" font-size="34.38" fill="#b91e48" text-anchor="middle">8</text>
<text transform="translate(864.50,741.90) scale(0.84,1)" font-size="34.38" fill="#b91e48" text-anchor="middle">%</text>
<text x="828.10" y="823.90" font-size="34.81" fill="#f78d50" text-anchor="middle">6</text>
<path d="M839.77,805.43 L846.82,800.69 V823.90" fill="none" stroke="#f78d50" stroke-width="2.18" stroke-linejoin="round"/>
<text transform="translate(865.00,823.90) scale(0.84,1)" font-size="34.81" fill="#f78d50" text-anchor="middle">%</text>
<line x1="673.80" y1="743.63" x2="673.80" y2="773.02" stroke="#000" stroke-width="2.2"/>
<text x="688.00" y="768.40" font-size="33.95" fill="#b91e48" text-anchor="middle">3</text>
<ellipse cx="709.70" cy="756.55" rx="8.06" ry="10.43" fill="none" stroke="#2ea24e" stroke-width="2.84"/>
<polyline points="723.60,744.70 730.98,757.97 723.60,771.13" fill="none" stroke="#000" stroke-width="2.2"/>
<line x1="969.90" y1="741.53" x2="969.90" y2="771.04" stroke="#000" stroke-width="2.2"/>
<path d="M975.25,748.31 L982.16,743.67 V766.40" fill="none" stroke="#b91e48" stroke-width="2.71" stroke-linejoin="round"/>
<text x="996.20" y="766.40" font-size="34.10" fill="#2ea24e" text-anchor="middle">2</text>
<polyline points="1008.40,742.60 1015.98,755.93 1008.40,769.14" fill="none" stroke="#000" stroke-width="2.2"/>
<line x1="683.30" y1="825.13" x2="683.30" y2="854.64" stroke="#000" stroke-width="2.2"/>
<text x="697.50" y="850.00" font-size="34.10" fill="#b91e48" text-anchor="middle">3</text>
<path d="M708.95,831.91 L715.86,827.27 V850.00" fill="none" stroke="#2ea24e" stroke-width="2.71" stroke-linejoin="round"/>
<polyline points="724.10,826.20 731.48,839.53 724.10,852.74" fill="none" stroke="#000" stroke-width="2.2"/>
<line x1="969.90" y1="822.82" x2="969.90" y2="852.46" stroke="#000" stroke-width="2.2"/>
<text x="983.10" y="847.80" font-size="34.24" fill="#b91e48" text-anchor="middle">2</text>
<text x="1001.60" y="847.80" font-size="34.24" fill="#2ea24e" text-anchor="middle">2</text>
<polyline points="1013.70,823.90 1020.78,837.28 1013.70,850.55" fill="none" stroke="#000" stroke-width="2.2"/>
<text x="-0.21" y="911.00" font-size="35.96" font-weight="bold" stroke="#000" stroke-width="1.5" stroke-linejoin="round" textLength="23.61" lengthAdjust="spacingAndGlyphs">e</text>
<line x1="150.6" y1="911.8" x2="150.6" y2="1156.6" stroke="#222" stroke-width="1.2"/>
<line x1="139.1" y1="1156.60" x2="150.6" y2="1156.60" stroke="#222" stroke-width="1.2"/>
<ellipse cx="119.60" cy="1155.75" rx="5.70" ry="7.56" fill="none" stroke="#000" stroke-width="1.77"/>
<line x1="139.1" y1="1095.40" x2="150.6" y2="1095.40" stroke="#222" stroke-width="1.2"/>
<ellipse cx="87.50" cy="1094.55" rx="5.70" ry="7.56" fill="none" stroke="#000" stroke-width="1.77"/>
<circle cx="98.60" cy="1101.39" r="1.69" fill="#000"/>
<text x="108.40" y="1103.00" font-size="24.21" fill="#000" text-anchor="middle">2</text>
<text x="120.70" y="1103.00" font-size="24.21" fill="#000" text-anchor="middle">5</text>
<line x1="139.1" y1="1034.20" x2="150.6" y2="1034.20" stroke="#222" stroke-width="1.2"/>
<ellipse cx="87.50" cy="1033.35" rx="5.70" ry="7.56" fill="none" stroke="#000" stroke-width="1.77"/>
<circle cx="98.60" cy="1040.19" r="1.69" fill="#000"/>
<text x="108.60" y="1041.80" font-size="24.21" fill="#000" text-anchor="middle">5</text>
<ellipse cx="119.60" cy="1033.35" rx="5.70" ry="7.56" fill="none" stroke="#000" stroke-width="1.77"/>
<line x1="139.1" y1="973.00" x2="150.6" y2="973.00" stroke="#222" stroke-width="1.2"/>
<ellipse cx="87.50" cy="972.15" rx="5.70" ry="7.56" fill="none" stroke="#000" stroke-width="1.77"/>
<circle cx="98.60" cy="978.99" r="1.69" fill="#000"/>
<text x="108.20" y="980.60" font-size="24.21" fill="#000" text-anchor="middle">7</text>
<text x="120.70" y="980.60" font-size="24.21" fill="#000" text-anchor="middle">5</text>
<line x1="139.1" y1="911.80" x2="150.6" y2="911.80" stroke="#222" stroke-width="1.2"/>
<path d="M81.23,906.56 L86.13,903.26 V919.40" fill="none" stroke="#000" stroke-width="1.69" stroke-linejoin="round"/>
<circle cx="93.00" cy="917.79" r="1.69" fill="#000"/>
<ellipse cx="104.00" cy="910.95" rx="5.70" ry="7.56" fill="none" stroke="#000" stroke-width="1.77"/>
<ellipse cx="119.60" cy="910.95" rx="5.70" ry="7.56" fill="none" stroke="#000" stroke-width="1.77"/>
<text transform="translate(55.90,1065.90) rotate(-90)" x="-2.05" y="0" font-size="27.5" fill="#000" textLength="68.05" lengthAdjust="spacingAndGlyphs">ECDF</text>
<line x1="150.6" y1="911.8" x2="444.2" y2="911.8" stroke="#777" stroke-width="1.6"/>
<line x1="455.7" y1="911.8" x2="748.2" y2="911.8" stroke="#777" stroke-width="1.6"/>
<line x1="759.5" y1="911.8" x2="1053.2" y2="911.8" stroke="#777" stroke-width="1.6"/>
<line x1="139.1" y1="1156.6" x2="444.2" y2="1156.6" stroke="#222" stroke-width="1.3"/>
<line x1="455.7" y1="1156.6" x2="748.2" y2="1156.6" stroke="#222" stroke-width="1.3"/>
<line x1="759.5" y1="1156.6" x2="1053.2" y2="1156.6" stroke="#222" stroke-width="1.3"/>
<line x1="1053.2" y1="911.8" x2="1053.2" y2="1156.6" stroke="#222" stroke-width="1.2"/>
<line x1="442.5" y1="916.8" x2="448.8" y2="906.8" stroke="#111" stroke-width="1.3"/>
<line x1="442.5" y1="1161.6" x2="448.8" y2="1151.6" stroke="#111" stroke-width="1.3"/>
<line x1="451.3" y1="916.8" x2="457.6" y2="906.8" stroke="#111" stroke-width="1.3"/>
<line x1="451.3" y1="1161.6" x2="457.6" y2="1151.6" stroke="#111" stroke-width="1.3"/>
<line x1="746.0" y1="916.8" x2="752.3" y2="906.8" stroke="#111" stroke-width="1.3"/>
<line x1="746.0" y1="1161.6" x2="752.3" y2="1151.6" stroke="#111" stroke-width="1.3"/>
<line x1="755.0" y1="916.8" x2="761.3" y2="906.8" stroke="#111" stroke-width="1.3"/>
<line x1="755.0" y1="1161.6" x2="761.3" y2="1151.6" stroke="#111" stroke-width="1.3"/>
<line x1="162.4" y1="1156.6" x2="162.4" y2="1167.8" stroke="#222" stroke-width="1.2"/>
<line x1="141.93" y1="1191.35" x2="152.07" y2="1191.35" stroke="#000" stroke-width="1.77"/>
<ellipse cx="161.10" cy="1189.15" rx="5.70" ry="7.56" fill="none" stroke="#000" stroke-width="1.77"/>
<circle cx="172.30" cy="1195.99" r="1.69" fill="#000"/>
<path d="M176.13,1184.76 L181.03,1181.46 V1197.60" fill="none" stroke="#000" stroke-width="1.69" stroke-linejoin="round"/>
<line x1="285.7" y1="1156.6" x2="285.7" y2="1167.8" stroke="#222" stroke-width="1.2"/>
<ellipse cx="288.20" cy="1189.15" rx="5.70" ry="7.56" fill="none" stroke="#000" stroke-width="1.77"/>
<line x1="408.8" y1="1156.6" x2="408.8" y2="1167.8" stroke="#222" stroke-width="1.2"/>
<ellipse cx="406.10" cy="1189.15" rx="5.70" ry="7.56" fill="none" stroke="#000" stroke-width="1.77"/>
<circle cx="417.30" cy="1195.99" r="1.69" fill="#000"/>
<path d="M421.73,1184.76 L426.63,1181.46 V1197.60" fill="none" stroke="#000" stroke-width="1.69" stroke-linejoin="round"/>
<line x1="540.5" y1="1156.6" x2="540.5" y2="1167.8" stroke="#222" stroke-width="1.2"/>
<ellipse cx="529.10" cy="1189.15" rx="5.70" ry="7.56" fill="none" stroke="#000" stroke-width="1.77"/>
<circle cx="540.30" cy="1195.99" r="1.69" fill="#000"/>
<text x="549.40" y="1197.60" font-size="24.21" fill="#000" text-anchor="middle">6</text>
<line x1="663.4" y1="1156.6" x2="663.4" y2="1167.8" stroke="#222" stroke-width="1.2"/>
<ellipse cx="654.60" cy="1189.15" rx="5.70" ry="7.56" fill="none" stroke="#000" stroke-width="1.77"/>
<circle cx="665.70" cy="1195.99" r="1.69" fill="#000"/>
<text x="676.70" y="1197.60" font-size="24.21" fill="#000" text-anchor="middle">7</text>
<line x1="795.4" y1="1156.6" x2="795.4" y2="1167.8" stroke="#222" stroke-width="1.2"/>
<ellipse cx="779.50" cy="1189.15" rx="5.70" ry="7.56" fill="none" stroke="#000" stroke-width="1.77"/>
<circle cx="790.80" cy="1195.99" r="1.69" fill="#000"/>
<text x="801.50" y="1197.60" font-size="24.21" fill="#000" text-anchor="middle">9</text>
<line x1="918.2" y1="1156.6" x2="918.2" y2="1167.8" stroke="#222" stroke-width="1.2"/>
<path d="M900.93,1184.76 L905.83,1181.46 V1197.60" fill="none" stroke="#000" stroke-width="1.69" stroke-linejoin="round"/>
<circle cx="912.60" cy="1195.99" r="1.69" fill="#000"/>
<ellipse cx="923.80" cy="1189.15" rx="5.70" ry="7.56" fill="none" stroke="#000" stroke-width="1.77"/>
<line x1="1040.9" y1="1156.6" x2="1040.9" y2="1167.8" stroke="#222" stroke-width="1.2"/>
<path d="M1027.93,1184.76 L1032.83,1181.46 V1197.60" fill="none" stroke="#000" stroke-width="1.69" stroke-linejoin="round"/>
<circle cx="1039.50" cy="1195.99" r="1.69" fill="#000"/>
<path d="M1046.53,1184.76 L1051.43,1181.46 V1197.60" fill="none" stroke="#000" stroke-width="1.69" stroke-linejoin="round"/>
<text x="500.73" y="1235.40" font-size="27" fill="#000" textLength="201.39" lengthAdjust="spacingAndGlyphs">Phase shift, <tspan font-style="italic">Φ</tspan>/π</text>
<path d="M263.00,1156.60 H268.10 V1144.36 H271.70 V1132.12 H279.10 V1119.88 H281.50 V1107.64 H282.00 V1095.40 H285.30 V1083.16 H285.50 V1070.92 H285.80 V1058.68 H286.00 V1046.44 H289.30 V1034.20 H289.60 V1021.96 H290.00 V1009.72 H292.50 V997.48 H300.00 V985.24 H303.10 V973.00 H303.30 V960.76 H310.00 V948.52 H328.00 V936.28 H331.80 V924.04 H335.50 V911.80 H339.30" fill="none" stroke="#3a91b8" stroke-width="3.6" stroke-linejoin="miter"/>
<path d="M532.00,1156.60 H540.60 V1144.36 H578.60 V1132.12 H579.00 V1119.88 H581.90 V1107.64 H587.30 V1095.40 H588.50 V1083.16 H589.50 V1070.92 H590.20 V1058.68 H590.60 V1046.44 H592.50 V1034.20 H593.80 V1021.96 H596.00 V1009.72 H606.90 V997.48 H617.70 V985.24 H624.30 V973.00 H628.60 V960.76 H630.80 V948.52 H638.40 V936.28 H667.70 V924.04 H680.70 V911.80 H688.30" fill="none" stroke="#b91e48" stroke-width="3.6" stroke-linejoin="miter"/>
<path d="M898.00,1156.60 H903.40 V1144.36 H904.50 V1132.12 H906.70 V1119.88 H913.20 V1107.64 H914.30 V1095.40 H918.60 V1083.16 H919.50 V1070.92 H920.50 V1058.68 H921.20 V1046.44 H921.90 V1034.20 H923.00 V1021.96 H924.00 V1009.72 H924.50 V997.48 H925.00 V985.24 H925.10 V973.00 H929.50 V960.76 H945.80 V948.52 H947.90 V936.28 H956.60 V924.04 H978.30 V911.80 H982.70" fill="none" stroke="#2ea24e" stroke-width="3.6" stroke-linejoin="miter"/>
<line x1="294.5" y1="913" x2="294.5" y2="1156" stroke="#3a91b8" stroke-width="3.1" stroke-dasharray="12 6.3" stroke-dashoffset="8.8"/>
<line x1="604.7" y1="913" x2="604.7" y2="1156" stroke="#b91e48" stroke-width="3.1" stroke-dasharray="12 6.3" stroke-dashoffset="8.8"/>
<line x1="926.7" y1="913" x2="926.7" y2="1156" stroke="#2ea24e" stroke-width="3.1" stroke-dasharray="12 6.3" stroke-dashoffset="8.8"/>
<line x1="360.90" y1="923.81" x2="360.90" y2="948.36" stroke="#3a91b8" stroke-width="1.75"/>
<ellipse cx="373.50" cy="934.60" rx="6.73" ry="8.71" fill="none" stroke="#3a91b8" stroke-width="2.38"/>
<polyline points="384.98,924.70 390.95,935.79 384.98,946.78" fill="none" stroke="#3a91b8" stroke-width="1.75"/>
<line x1="692.60" y1="923.81" x2="692.60" y2="948.36" stroke="#b91e48" stroke-width="1.75"/>
<text x="703.50" y="944.50" font-size="28.37" fill="#b91e48" text-anchor="middle">2</text>
<polyline points="713.27,924.70 719.25,935.79 713.27,946.78" fill="none" stroke="#b91e48" stroke-width="1.75"/>
<line x1="987.00" y1="923.81" x2="987.00" y2="948.36" stroke="#2ea24e" stroke-width="1.75"/>
<path d="M991.23,929.45 L996.98,925.59 V944.50" fill="none" stroke="#2ea24e" stroke-width="2.26" stroke-linejoin="round"/>
<polyline points="1003.67,924.70 1009.65,935.79 1003.67,946.78" fill="none" stroke="#2ea24e" stroke-width="1.75"/>
</svg></body></html>
